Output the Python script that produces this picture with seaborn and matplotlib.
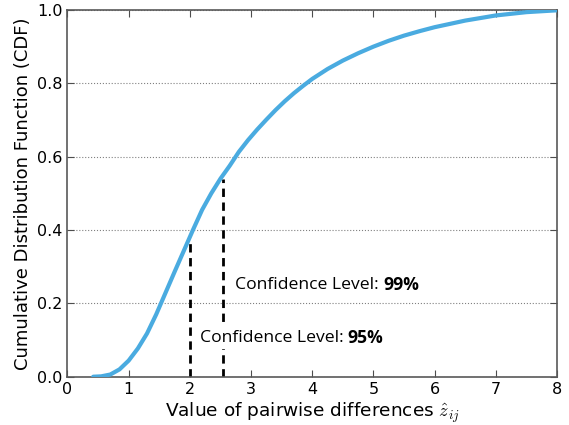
import numpy as np
import pandas as pd
import matplotlib
matplotlib.use("Agg")
import matplotlib.pyplot as plt
import seaborn as sns

# CDF of pairwise differences
z_vals = [0.42, 0.55, 0.70, 0.85, 1.00, 1.15, 1.30, 1.45, 1.60, 1.75, 1.90, 2.05,
          2.20, 2.35, 2.50, 2.65, 2.80, 2.95, 3.10, 3.25, 3.40, 3.55, 3.70, 3.85,
          4.00, 4.25, 4.50, 4.75, 5.00, 5.25, 5.50, 5.75, 6.00, 6.50, 7.00, 7.50, 8.00]
cdf_vals = [0.000, 0.001, 0.006, 0.020, 0.044, 0.077, 0.118, 0.170, 0.228, 0.286, 0.343, 0.400,
            0.455, 0.500, 0.540, 0.575, 0.613, 0.645, 0.674, 0.701, 0.727, 0.751, 0.773, 0.793,
            0.812, 0.839, 0.862, 0.882, 0.900, 0.916, 0.930, 0.942, 0.953, 0.971, 0.985, 0.994, 0.999]

# confidence thresholds (x position, label, height of the dashed line)
conf_x = [2.0, 2.54]
conf_top = [0.37, 0.54]
conf_labels = ["95%", "99%"]
conf_text_pos = [(2.16, 0.105), (2.74, 0.25)]

df = pd.DataFrame({"z": z_vals, "cdf": cdf_vals})

sns.set_style("white")
plt.rcParams["font.family"] = ["DejaVu Sans"]
plt.rcParams["mathtext.fontset"] = "cm"
plt.rcParams["text.color"] = "black"
plt.rcParams["axes.labelcolor"] = "black"
plt.rcParams["xtick.direction"] = "in"
plt.rcParams["ytick.direction"] = "in"

fig = plt.figure(figsize=(5.69, 4.25), dpi=100)
ax = fig.add_axes([0.1186, 0.1136, 0.8604, 0.863])

for x, top in zip(conf_x, conf_top):
    ax.plot([x, x], [0, top], color="black", lw=2, linestyle=(0, (3, 2)), zorder=2)

sns.lineplot(data=df, x="z", y="cdf", ax=ax, color="#4AABE0", lw=3, zorder=3)

ax.set_xlim(0, 8)
ax.set_ylim(0, 1.0)
ax.set_xticks(range(0, 9))
ax.set_yticks([0.0, 0.2, 0.4, 0.6, 0.8, 1.0])
ax.set_yticklabels([f"{v:.1f}" for v in [0.0, 0.2, 0.4, 0.6, 0.8, 1.0]])
ax.tick_params(axis="both", labelsize=11.5, length=5, width=0.8, colors="0.3",
               labelcolor="black", top=True, right=True, bottom=True, left=True)
ax.yaxis.grid(True, linestyle=":", color="0.5", lw=0.8)
ax.xaxis.grid(False)
for s in ax.spines.values():
    s.set_color("0.35")
    s.set_linewidth(1.2)

ax.set_xlabel(r"Value of pairwise differences $\hat{z}_{ij}$", fontsize=13.3, labelpad=3)
ax.set_ylabel("Cumulative Distribution Function (CDF)", fontsize=13)

renderer = fig.canvas.get_renderer()
for (tx, ty), lab in zip(conf_text_pos, conf_labels):
    bg = dict(facecolor="white", edgecolor="none", pad=2) if lab == "95%" else None
    t = ax.text(tx, ty, "Confidence Level: ", family="Open Sans", fontsize=12.6,
                va="center", ha="left", bbox=bg, zorder=4)
    bb = t.get_window_extent(renderer=renderer)
    x_end = ax.transData.inverted().transform((bb.x1, bb.y0))[0]
    ax.text(x_end, ty, lab, family="Open Sans", fontweight="bold", fontsize=12.6,
            va="center", ha="left", bbox=bg, zorder=4)

fig.savefig("out.png", dpi=100)
